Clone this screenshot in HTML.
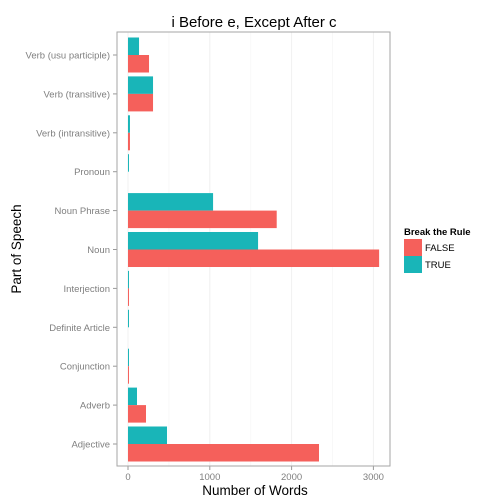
<!DOCTYPE html>
<html><head><meta charset="utf-8"><style>
body{margin:0;background:#fff;font-family:"Liberation Sans",Arial,sans-serif}
svg{display:block}
</style></head><body>
<svg id="chart" width="504" height="504">
<g id="grid"></g><g id="bars"></g><g id="axes"></g>
<text x="254" y="27" font-size="15" text-anchor="middle" fill="#000">i Before e, Except After c</text>
<text x="255" y="495" font-size="13.5" text-anchor="middle">Number of Words</text>
<text transform="translate(21,249) rotate(-90)" font-size="13.5" text-anchor="middle">Part of Speech</text>
<g>
<text x="404" y="235" font-size="9.5" font-weight="bold">Break the Rule</text>
<rect x="404" y="239" width="18" height="17" fill="#F5605B"/>
<text x="425" y="251" font-size="9.5">FALSE</text>
<rect x="404" y="256" width="18" height="17" fill="#19B5B8"/>
<text x="425" y="268" font-size="9.5">TRUE</text>
</g>
</svg>
<script>
const categories=["Adjective","Adverb","Conjunction","Definite Article","Interjection","Noun","Noun Phrase","Pronoun","Verb (intransitive)","Verb (transitive)","Verb (usu participle)"];
const falseVals=[2335,220,12,0,12,3070,1818,0,24,306,257];
const trueVals=[477,110,12,12,12,1590,1040,12,24,306,135];
const xTicks=[0,1000,2000,3000];
const ns="http://www.w3.org/2000/svg";
const L=117,R=390,T=32,B=466,x0=128,k=0.0818;
const sx=v=>x0+v*k;
const step=(444-55)/10;
const sy=i=>444-i*step;
const bw=step*0.45;
function mk(tag,attrs,parent){const e=document.createElementNS(ns,tag);for(const a in attrs)e.setAttribute(a,attrs[a]);parent.appendChild(e);return e;}
const grid=document.getElementById('grid'),bars=document.getElementById('bars'),axes=document.getElementById('axes');
mk('rect',{x:L,y:T,width:R-L,height:B-T,fill:'#fff'},grid);
[500,1500,2500].forEach(v=>{const l=mk('line',{x1:sx(v),x2:sx(v),y1:T,y2:B,stroke:'#f7f7f7','stroke-width':0.8},grid);

});
xTicks.forEach(v=>{const l=mk('line',{x1:sx(v),x2:sx(v),y1:T,y2:B,stroke:'#f0f0f0','stroke-width':1},grid);


const t=mk('line',{x1:sx(v),x2:sx(v),y1:B,y2:B+4,stroke:'#999'},axes);


const tx=mk('text',{x:sx(v),y:B+14,'font-size':9.5,fill:'#7f7f7f','text-anchor':'middle'},axes);tx.textContent=v;

});
categories.forEach((c,i)=>{const y=sy(i);
const t=mk('line',{x1:L-4,x2:L,y1:y,y2:y,stroke:'#999'},axes);


const tx=mk('text',{x:L-7,y:y+3.5,'font-size':9.5,fill:'#7f7f7f','text-anchor':'end'},axes);tx.textContent=c;


if(trueVals[i]>0){const b=mk('rect',{x:sx(0),y:y-bw,width:sx(trueVals[i])-sx(0),height:bw,fill:'#19B5B8'},bars);

}
if(falseVals[i]>0){const b=mk('rect',{x:sx(0),y:y,width:sx(falseVals[i])-sx(0),height:bw,fill:'#F5605B'},bars);

}
});
const fr=mk('rect',{x:L,y:T,width:R-L,height:B-T,fill:'none',stroke:'#a6a6a6','stroke-width':1},axes);


</script>
</body></html>
